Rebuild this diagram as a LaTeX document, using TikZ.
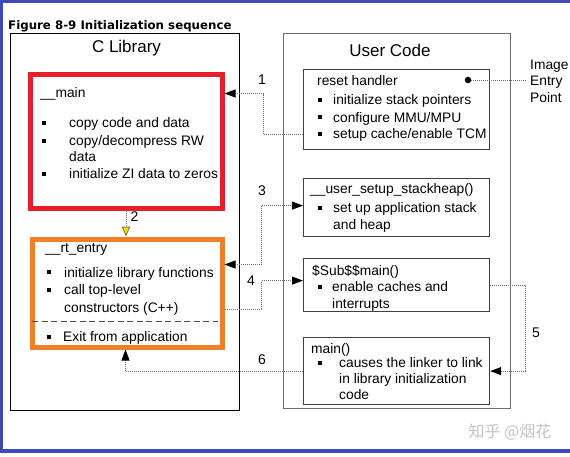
\documentclass[tikz,border=0pt]{standalone}
\usepackage{fontspec}
\setmainfont{Liberation Sans}
\newfontfamily\verd{DejaVu Sans}
\newfontfamily\cjk{Noto Sans CJK SC}
\usetikzlibrary{arrows.meta}
\definecolor{frameblue}{RGB}{64,72,186}
\definecolor{boxred}{RGB}{228,32,44}
\definecolor{boxorange}{RGB}{240,128,40}
\definecolor{conngray}{RGB}{110,110,110}
\definecolor{wmgray}{RGB}{195,195,195}
\tikzset{
  plain/.style={draw=black, line width=0.9pt, anchor=north west, inner sep=0},
  ubox/.style={draw=conngray, line width=1.4pt, anchor=north west, inner sep=0},
  sbox/.style={draw=black!75, line width=1.2pt, anchor=north west, inner sep=0},
  thick box/.style={line width=5pt, anchor=north west, inner sep=0},
  txt/.style={anchor=base west, inner sep=0, font=\fontsize{13.8}{17}\selectfont},
  head/.style={anchor=center, inner sep=0, font=\fontsize{17}{20}\selectfont},
  num/.style={anchor=center, inner sep=0, font=\fontsize{14}{17}\selectfont},
  bul/.style={rectangle, fill=black, inner sep=0, minimum size=3.6pt},
  conn/.style={draw=conngray, line width=1pt, dash pattern=on 1pt off 1pt},
  blacktip/.tip={Triangle[length=11pt,width=8pt,fill=black,color=black]},
  tip/.style={-blacktip},
}
\begin{document}
\begin{tikzpicture}[x=1pt,y=-1pt]
\useasboundingbox (0,0) rectangle (570,456);
% frame
\fill[frameblue] (0,0.3) rectangle (570,3.4);
\fill[frameblue] (0,0) rectangle (3.4,453.4);
\fill[frameblue] (0,449.2) rectangle (570,453.4);
% title
\node[anchor=west, inner sep=0, font=\verd\bfseries\fontsize{11.8}{14}\selectfont] (title) at (8,26) {Figure 8-9 Initialization sequence};
% outer boxes
\node[plain, minimum width=229pt, minimum height=377pt] (clib) at (10,33) {};
\node[ubox, minimum width=227pt, minimum height=375pt] (user) at (283,33) {};
\node[head] (clibt) at (126.5,48) {C Library};
\node[head] (usert) at (390,50) {User Code};
% red box __main
\node[thick box, draw=boxred, minimum width=192pt, minimum height=134pt] (red) at (27.5,71.5) {};
\node[txt] (mainh) at (40,97) {\_\_main};
\node[bul] (rb1) at (44,123) {};
\node[txt] (rt1) at (69,127) {copy code and data};
\node[bul] (rb2) at (44,141) {};
\node[txt] (rt2) at (69,145) {copy/decompress RW};
\node[txt] (rt3) at (69,161) {data};
\node[bul] (rb3) at (44,174) {};
\node[txt] (rt4) at (69,178) {initialize ZI data to zeros};
% orange box __rt_entry
\node[thick box, draw=boxorange, minimum width=190pt, minimum height=108pt] (orange) at (29.5,236.5) {};
\node[txt] (rth) at (45,252) {\_\_rt\_entry};
\node[bul] (ob1) at (49,272) {};
\node[txt] (ot1) at (64,277) {initialize library functions};
\node[bul] (ob2) at (49,290) {};
\node[txt] (ot2) at (64,294) {call top-level};
\node[txt] (ot3) at (64,312) {constructors (C++)};
\draw[black!70, line width=1pt, dash pattern=on 6pt off 3.5pt] (32,321) coordinate (dl) -- (218,321) coordinate (dr);
\node[bul] (ob3) at (49,337) {};
\node[txt] (ot4) at (63,341) {Exit from application};
% reset handler
\node[sbox, minimum width=186pt, minimum height=80pt] (reset) at (303,69) {};
\node[txt] (resh) at (317,85) {reset handler};
\node[bul] (sb1) at (320,100) {};
\node[txt] (st1) at (333,104) {initialize stack pointers};
\node[bul] (sb2) at (320,117) {};
\node[txt] (st2) at (333,122) {configure MMU/MPU};
\node[bul] (sb3) at (320,134) {};
\node[txt] (st3) at (333,138) {setup cache/enable TCM};
% stackheap
\node[sbox, minimum width=186pt, minimum height=58pt] (stack) at (303,178) {};
\node[txt] (sth) at (310,193) {\_\_user\_setup\_stackheap()};
\node[bul] (kb1) at (320,208) {};
\node[txt] (kt1) at (333,212) {set up application stack};
\node[txt] (kt2) at (333,229) {and heap};
% $Sub$$main
\node[sbox, minimum width=186pt, minimum height=53pt] (sub) at (303,258) {};
\node[txt] (subh) at (312,275) {\$Sub\$\$main()};
\node[bul] (ub1) at (320,287) {};
\node[txt] (ut1) at (332,291) {enable caches and};
\node[txt] (ut2) at (332,308) {interrupts};
% main()
\node[sbox, minimum width=186pt, minimum height=67pt] (mainb) at (303,337) {};
\node[txt] (mh) at (311,353) {main()};
\node[bul] (mb1) at (320,363) {};
\node[txt] (mt1) at (339,367) {causes the linker to link};
\node[txt] (mt2) at (339,383) {in library initialization};
\node[txt] (mt3) at (339,399) {code};
% entry point
\node[circle, fill=black, inner sep=0, minimum size=6.5pt] (dot) at (468,80) {};
\node[anchor=west, inner xsep=4pt, inner ysep=0, align=left, font=\fontsize{13.8}{16.5}\selectfont] (entry) at (526,81) {Image\\Entry\\Point};
\draw[conn] (dot) -- (dot -| entry.west);
% connectors
\draw[conn, tip] ([yshift=16pt]reset.south west) -- ++(-40,0) |- ([yshift=-22pt]red.north east);
\node[num] (n1) at (262,80) {1};
\draw[conn, -{Triangle[length=10pt,width=8.5pt,fill=yellow!90!orange,color=black!55!yellow]}] (red.south) -- (red.south |- orange.north);
\node[num] (n2) at (134.5,217) {2};
\draw[conn, blacktip-blacktip] ([yshift=-28pt]orange.north east) -- ++(37,0) |- ([yshift=2pt]stack.west);
\node[num] (n3) at (262,191) {3};
\draw[conn, tip] ([yshift=-73pt]orange.north east) -- ++(37,0) |- ([yshift=4.5pt]sub.west);
\node[num] (n4) at (251,281) {4};
\draw[conn, tip] (sub.east) -- ++(35,0) |- (mainb.east);
\node[num] (n5) at (536,333) {5};
\draw[conn, tip] (mainb.west) -| ([xshift=-1.5pt]orange.south);
\node[num] (n6) at (262,360) {6};
% watermark
\node[anchor=center, inner sep=0, text=wmgray, font=\cjk\fontsize{16}{18}\selectfont] (wm) at (510,432) {知乎 @烟花};
\end{tikzpicture}
\end{document}
